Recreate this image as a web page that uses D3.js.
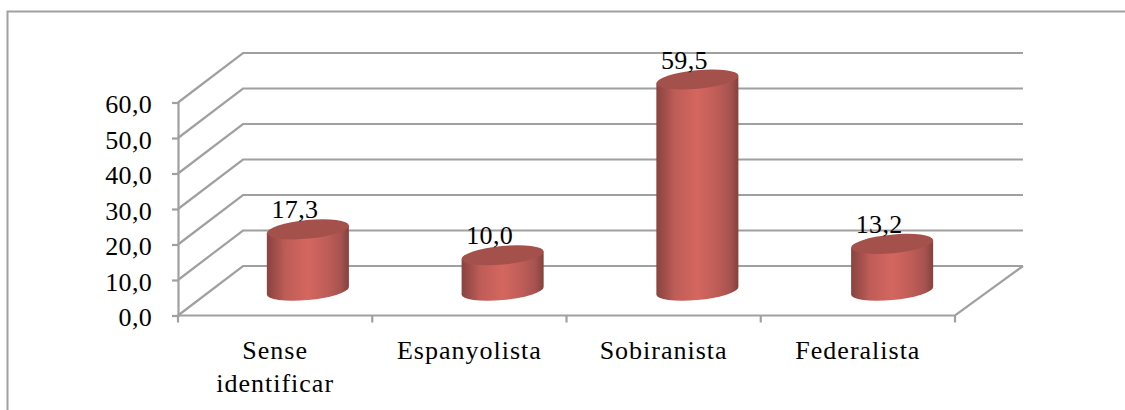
<!DOCTYPE html>
<html>
<head>
<meta charset="utf-8">
<script src="https://cdnjs.cloudflare.com/ajax/libs/d3/7.8.5/d3.min.js"></script>
<style>
  html, body { margin: 0; background: #fff; }
  text { font-family: "Liberation Serif", serif; font-size: 26px; fill: #000; }
  .cat { letter-spacing: 1px; }
  .num { letter-spacing: 0.3px; }
</style>
</head>
<body>
<div id="chart"></div>
<script>
// values
const categories = [["Sense", "identificar"], ["Espanyolista"], ["Sobiranista"], ["Federalista"]];
const values = [17.3, 10.0, 59.5, 13.2];
const valueLabels = ["17,3", "10,0", "59,5", "13,2"];
const yTicks = [0, 10, 20, 30, 40, 50, 60];
const yTickLabels = ["0,0", "10,0", "20,0", "30,0", "40,0", "50,0", "60,0"];

const width = 1125, height = 410;
const grey = "#a0a0a0";
// vertical shift of the back wall from the front
const depthY = -49.5;

const svg = d3.select("#chart").append("svg")
    .attr("width", width)
    .attr("height", height)
    .style("display", "block");

// front edge, back wall, and the middle row where the cylinders stand
const x = d3.scaleBand().domain(d3.range(categories.length)).range([178, 955]);
const xBack = d3.scaleBand().domain(d3.range(categories.length)).range([243, 1023]);
const xMid = d3.scaleBand().domain(d3.range(categories.length)).range([210.5, 989.5]);
const y = d3.scaleLinear().domain([0, 60]).range([315.5, 102.5]);

// gradient for the cylinder sides
const defs = svg.append("defs");
const grad = defs.append("linearGradient").attr("id", "cyl");
[[0, "#8a4340"], [0.14, "#a8524e"], [0.22, "#bd5c57"], [0.5, "#d4675f"], [0.75, "#bd5c57"], [0.9, "#a65350"], [1, "#85413d"]]
  .forEach(s => grad.append("stop").attr("offset", s[0]).attr("stop-color", s[1]));

// frame, cut off by the right and bottom of the picture
svg.append("path")
    .attr("d", `M7.5,${height} V11.5 H${width}`)
    .attr("fill", "none")
    .attr("stroke", grey)
    .attr("stroke-width", 2);

// walls and gridlines
const [x0, x1] = x.range();
const [bx0, bx1] = xBack.range();
const wall = d3.line();
svg.append("g").selectAll("path")
  .data(yTicks)
  .join("path")
    .attr("d", d => wall([[x0, y(d)], [bx0, y(d) + depthY], [bx1, y(d) + depthY]]))
    .attr("fill", "none")
    .attr("stroke", grey)
    .attr("stroke-width", 2.2);

// floor
svg.append("path")
    .attr("d", wall([[x0, y(0)], [x1, y(0)], [bx1, y(0) + depthY]]))
    .attr("fill", "none")
    .attr("stroke", grey)
    .attr("stroke-width", 2.2);

// axes
const yAxis = svg.append("g").attr("transform", `translate(${x0},0)`)
    .call(d3.axisLeft(y).tickValues(yTicks).tickSize(6).tickPadding(20).tickFormat((d, i) => yTickLabels[i]));
yAxis.select(".domain").attr("stroke", grey).attr("stroke-width", 2.2);
yAxis.selectAll(".tick line").attr("stroke", grey).attr("stroke-width", 2.2);
yAxis.selectAll("text")
    .attr("class", "num")
    .attr("font-size", null)
    .attr("font-family", null)
    .attr("dy", "0.4em");

const tickXs = d3.range(categories.length + 1).map(i => x0 + i * x.bandwidth());
svg.append("g").selectAll("line")
  .data(tickXs)
  .join("line")
    .attr("x1", d => d).attr("x2", d => d)
    .attr("y1", y(0)).attr("y2", y(0) + 7)
    .attr("stroke", grey)
    .attr("stroke-width", 2.2);

// category labels
svg.append("g").selectAll("text")
  .data(categories)
  .join("text")
    .attr("class", "cat")
    .attr("text-anchor", "middle")
    .attr("transform", (d, i) => `translate(${x(i) + x.bandwidth() / 2},0)`)
  .selectAll("tspan")
  .data(d => d)
  .join("tspan")
    .attr("x", 0)
    .attr("y", (d, i) => 359 + i * 32.5)
    .text(d => d);

// tilted ellipse of the cylinder ends
const rx = 41.2, ry = 9.3, tilt = -5.5;
const th = tilt * Math.PI / 180;
const halfW = Math.sqrt(rx * rx * Math.cos(th) ** 2 + ry * ry * Math.sin(th) ** 2);
const dyEdge = (rx * rx - ry * ry) * Math.sin(-th) * Math.cos(th) / halfW;

const bars = svg.append("g").selectAll("g")
  .data(values)
  .join("g")
    .attr("transform", (d, i) => `translate(${xMid(i) + xMid.bandwidth() / 2},${depthY / 2})`);

// side + bottom cap
bars.append("path")
    .attr("fill", "url(#cyl)")
    .attr("d", d => {
      const top = y(d), base = y(0);
      return `M${-halfW},${top + dyEdge} L${-halfW},${base + dyEdge}`
        + ` A${rx},${ry} ${tilt} 0 0 ${halfW},${base - dyEdge}`
        + ` L${halfW},${top - dyEdge} Z`;
    });

// top cap
bars.append("ellipse")
    .attr("rx", rx)
    .attr("ry", ry)
    .attr("fill", "#a4514b")
    .attr("transform", d => `translate(0,${y(d)}) rotate(${tilt})`);

// value labels
bars.append("text")
    .attr("class", "num")
    .attr("text-anchor", "middle")
    .attr("x", -13)
    .attr("y", d => y(d) - 11)
    .text((d, i) => valueLabels[i]);
</script>
</body>
</html>
